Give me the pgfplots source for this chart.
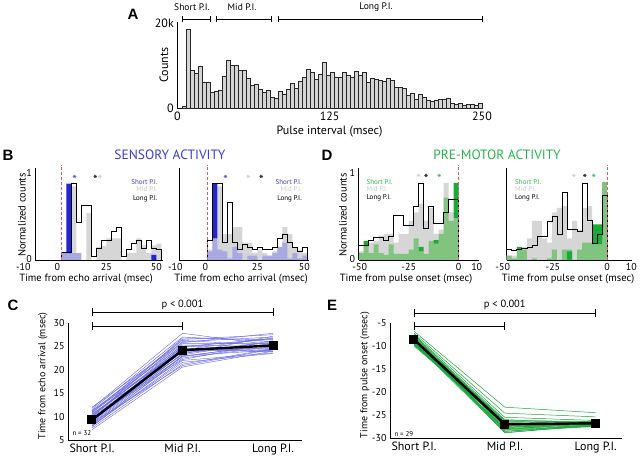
\documentclass[border=0pt]{standalone}
\usepackage{fontspec}
\setmainfont{PT Sans}
\newfontfamily\lett{Liberation Sans}
\usepackage{pgfplots}
\pgfplotsset{compat=1.18}
\definecolor{mgray}{RGB}{214,214,214}
\definecolor{lblue}{RGB}{168,168,226}
\definecolor{dblue}{RGB}{35,35,215}
\definecolor{lgreen}{RGB}{128,196,128}
\definecolor{dgreen}{RGB}{25,170,55}
\definecolor{tblue}{RGB}{60,60,205}
\definecolor{tgreen}{RGB}{40,182,75}
\definecolor{cline}{RGB}{110,110,230}
\definecolor{eline}{RGB}{30,165,60}
\definecolor{rdash}{RGB}{228,88,98}
\definecolor{legmid}{RGB}{200,200,200}
\definecolor{histA}{RGB}{212,212,212}
\newcommand\sh[2]{\makebox[0pt]{\hspace*{#1}\hspace*{#1}\makebox[0pt]{#2}}}
\newcommand\fs[1]{\fontsize{#1}{#1}\selectfont}
\newcommand\lC[3]{\addplot[cline, line width=0.45pt] coordinates {(0,#1)(1,#2)(2,#3)};}
\newcommand\lE[3]{\addplot[eline, line width=0.5pt] coordinates {(0,#1)(1,#2)(2,#3)};}
\tikzset{star/.style={font=\fs{13}, inner sep=0pt}}
\pgfplotsset{base/.style={scale only axis, anchor=south west, clip=false,
  axis x line*=bottom, axis y line*=left, axis line style={line width=0.7pt},
  major tick length=0pt, tick style={draw=none},
  /pgf/number format/assume math mode=true, ticklabel style={font=\fs{10}}},
  hb/.style={base, ymin=0, ymax=1.06, height=91.9pt},
  rline/.style={rdash, line width=1.2pt, dash pattern=on 3pt off 2pt}}
\begin{document}
\begin{tikzpicture}
\useasboundingbox (0,0) rectangle (640pt,458pt);
% ---------------- Panel A
\begin{axis}[base, at={(177.3pt,349.7pt)}, width=304.7pt, height=86.6pt,
  xmin=0, xmax=250, ymin=0, ymax=20.3, xtick={0,125,250}, ytick={0,20}, yticklabels={0,20k},
  ticklabel style={font=\fs{12}}]
\addplot[ybar interval, fill=histA, draw=black!85, line width=0.45pt] coordinates {
(4.00,0.5)(7.28,18.6)(10.56,9.0)(13.84,8.2)(17.12,9.8)(20.40,6.2)(23.68,6.0)(26.96,3.7)(30.24,4.1)(33.52,4.3)(36.80,7.6)(40.08,11.2)(43.36,10.0)(46.64,10.2)(49.92,9.0)(53.20,9.0)(56.48,7.0)(59.76,5.4)(63.04,5.7)(66.32,4.5)(69.60,3.7)(72.88,4.2)(76.16,2.7)(79.44,2.4)(82.72,4.1)(86.00,3.4)(89.28,4.4)(92.56,5.9)(95.84,4.6)(99.12,6.3)(102.40,7.2)(105.68,9.1)(108.96,8.5)(112.24,6.9)(115.52,8.1)(118.80,10.8)(122.08,7.7)(125.36,8.5)(128.64,7.4)(131.92,7.2)(135.20,8.4)(138.48,7.8)(141.76,7.4)(145.04,8.8)(148.32,7.8)(151.60,8.4)(154.88,6.1)(158.16,7.1)(161.44,6.7)(164.72,6.6)(168.00,6.3)(171.28,7.1)(174.56,6.5)(177.84,4.9)(181.12,4.9)(184.40,4.7)(187.68,3.0)(190.96,3.5)(194.24,2.1)(197.52,3.2)(200.80,2.6)(204.08,1.8)(207.36,1.6)(210.64,2.0)(213.92,2.1)(217.20,2.1)(220.48,2.35)(223.76,1.2)(227.04,1.05)(230.32,1.2)(233.60,0.8)(236.88,0.9)(240.16,0.9)(243.44,0.75)(246.72,1.2)(250,1.2)};
\draw[line width=0.7pt] (3.9,20.17)--(3.9,21.57) (3.9,20.87)--(26.8,20.87) (26.8,20.17)--(26.8,21.57);
\draw[line width=0.7pt] (31.7,20.17)--(31.7,21.57) (31.7,20.87)--(76.9,20.87) (76.9,20.17)--(76.9,21.57);
\draw[line width=0.7pt] (82.6,20.17)--(82.6,21.57) (82.6,20.87)--(250,20.87) (250,20.17)--(250,21.57);
\end{axis}
% ---------------- Panel B left
\begin{axis}[hb, at={(35.3pt,198pt)}, width=128pt, xmin=-13, xmax=51,
  xtick={-10,0,25,50}, xticklabels={{\sh{-18pt}{-10}},{\sh{-4pt}{0}},{\sh{-5pt}{25}},{\sh{-5pt}{50}}},
  ytick={0,1}, yticklabels={{\raisebox{3pt}{0}},1}]
\addplot[ybar interval, fill=mgray, draw=none] coordinates {(0,0)(2.5,0)(5,0.85)(7.5,0)(10,0)(12.5,0.54)(15,0)(17.5,0.15)(20,0.16)(22.5,0.25)(25,0.25)(27.5,0.25)(30,0)(32.5,0.08)(35,0.08)(37.5,0.25)(40,0.17)(42.5,0.08)(45,0.17)(47.5,0.19)(50,0.19)};
\addplot[ybar interval, fill=lblue, draw=none] coordinates {(0,0.08)(2.5,0.08)(5,0.08)(7.5,0.08)(10,0.08)};
\addplot[fill=dblue, draw=none] coordinates {(2.5,0.08)(5,0.08)(5,0.88)(2.5,0.88)(2.5,0.08)};
\addplot[fill=dblue, draw=none] coordinates {(45,0)(47.5,0)(47.5,0.06)(45,0.06)(45,0)};
\addplot[const plot, black, line width=0.6pt] coordinates {(0,0)(0,0.09)(2.5,0.09)(5,0.88)(7.5,0.44)(10,0.63)(12.5,0.63)(15,0.04)(17.5,0.13)(20,0.23)(22.5,0.23)(25,0.33)(27.5,0.38)(30,0.04)(32.5,0.12)(35,0.19)(37.5,0.23)(40,0.13)(42.5,0.23)(45,0.13)(47.5,0.12)(50,0.12)(50,0)};
\addplot[rline] coordinates {(0,0)(0,1.1)};
\node[star, tblue] at (6.7,0.93) {*};
\node[star, black] at (17.0,0.93) {*};
\node[star, legmid] at (19.3,0.93) {*};
\end{axis}
% ---------------- Panel B right
\begin{axis}[hb, at={(179.3pt,198pt)}, width=130pt, xmin=-14, xmax=51,
  xtick={-10,0,25,50}, xticklabels={{\sh{-12pt}{-10}},{\sh{-2pt}{0}},{25},{\sh{-3pt}{50}}},
  ytick=\empty]
\addplot[ybar interval, fill=mgray, draw=none] coordinates {(0,0.12)(2.5,0.3)(5,0.85)(7.5,0.3)(10,0.3)(12.5,0.38)(15,0.38)(17.5,0.2)(20,0.2)(22.5,0.08)(25,0.12)(27.5,0.08)(30,0.05)(32.5,0.1)(35,0.12)(37.5,0.38)(40,0.3)(42.5,0.15)(45,0.12)(47.5,0.08)(50,0.08)};
\addplot[ybar interval, fill=lblue, draw=none] coordinates {(0,0.1)(2.5,0.25)(5,0.12)(7.5,0.1)(10,0.02)(12.5,0.15)(15,0.08)(17.5,0)(20,0.05)(22.5,0.05)(25,0)(27.5,0.05)(30,0.05)(32.5,0.08)(35,0.15)(37.5,0.2)(40,0.02)(42.5,0.08)(45,0.02)(47.5,0.05)(50,0.05)};
\addplot[fill=dblue, draw=none] coordinates {(2.5,0.25)(5,0.25)(5,0.88)(2.5,0.88)(2.5,0.25)};
\addplot[const plot, black, line width=0.6pt] coordinates {(0,0)(0,0.23)(2.5,0.88)(5,0.88)(7.5,0.2)(10,0.67)(12.5,0.2)(15,0.12)(17.5,0.18)(20,0.15)(22.5,0.12)(25,0.15)(27.5,0.12)(30,0.12)(32.5,0.15)(35,0.25)(37.5,0.30)(40,0.20)(42.5,0.15)(45,0.1)(47.5,0.15)(50,0.15)(50,0)};
\addplot[rline] coordinates {(0,0)(0,1.1)};
\node[star, tblue] at (9.2,0.93) {*};
\node[star, legmid] at (20.5,0.93) {*};
\node[star, black] at (27,0.93) {*};
\end{axis}
% ---------------- Panel D left
\begin{axis}[hb, at={(358.7pt,198pt)}, width=120pt, xmin=-50, xmax=10,
  xtick={-50,-25,0,10}, xticklabels={{\sh{1pt}{-50}},{-25},{0},{\sh{-2pt}{10}}},
  ytick={0,1}, yticklabels={{\raisebox{3pt}{0}},1}]
\addplot[ybar interval, fill=mgray, draw=none] coordinates {(-50,0.1)(-47.5,0.15)(-45,0.2)(-42.5,0.22)(-40,0.28)(-37.5,0.3)(-35,0.3)(-32.5,0.2)(-30,0.3)(-27.5,0.3)(-25,0.45)(-22.5,0.55)(-20,0.65)(-17.5,0.45)(-15,0.6)(-12.5,0.3)(-10,0.35)(-7.5,0.89)(-5,0.55)(-2.5,0.3)(0,0.3)};
\addplot[ybar interval, fill=lgreen, draw=none] coordinates {(-50,0.08)(-47.5,0.16)(-45,0.08)(-42.5,0.18)(-40,0.08)(-37.5,0.06)(-35,0.18)(-32.5,0.07)(-30,0.07)(-27.5,0.07)(-25,0.12)(-22.5,0.25)(-20,0.10)(-17.5,0.07)(-15,0.22)(-12.5,0.19)(-10,0.30)(-7.5,0.72)(-5,0.45)(-2.5,0.48)(0,0.48)};
\addplot[fill=dgreen, draw=none] coordinates {(-47.5,0.16)(-45,0.16)(-45,0.22)(-47.5,0.22)(-47.5,0.16)};
\addplot[fill=dgreen, draw=none] coordinates {(-20,0.10)(-17.5,0.10)(-17.5,0.15)(-20,0.15)(-20,0.10)};
\addplot[fill=dgreen, draw=none] coordinates {(-12.5,0.19)(-10,0.19)(-10,0.23)(-12.5,0.23)(-12.5,0.19)};
\addplot[fill=dgreen, draw=none] coordinates {(-2.5,0.48)(0,0.48)(0,0.89)(-2.5,0.89)(-2.5,0.48)};
\addplot[const plot, black, line width=0.6pt] coordinates {(-50,0)(-50,0.17)(-47.5,0.17)(-45,0.23)(-42.5,0.26)(-40,0.26)(-37.5,0.23)(-35,0.27)(-32.5,0.52)(-30,0.52)(-27.5,0.40)(-25,0.40)(-22.5,0.62)(-20,0.89)(-17.5,0.37)(-15,0.62)(-12.5,0.42)(-10,0.42)(-7.5,0.55)(-5,0.70)(-2.5,0.70)(0,0.70)(0,0)};
\addplot[rline] coordinates {(0,0)(0,1.1)};
\node[star, legmid] at (-20,0.94) {*};
\node[star, black] at (-16.3,0.94) {*};
\node[star, tgreen] at (-9.7,0.94) {*};
\end{axis}
% ---------------- Panel D right
\begin{axis}[hb, at={(506.7pt,198pt)}, width=125.6pt, xmin=-50, xmax=12.5,
  xtick={-50,-25,0,10}, xticklabels={{\sh{-4pt}{-50}},{\sh{-4pt}{-25}},{0},{\sh{4pt}{10}}},
  ytick=\empty]
\addplot[ybar interval, fill=mgray, draw=none] coordinates {(-50,0.05)(-47.5,0.05)(-45,0.15)(-42.5,0.15)(-40,0.25)(-37.5,0.45)(-35,0.45)(-32.5,0.25)(-30,0.2)(-27.5,0.55)(-25,0.6)(-22.5,0.62)(-20,0.25)(-17.5,0.45)(-15,0.35)(-12.5,0.6)(-10,0.62)(-7.5,0.35)(-5,0.35)(-2.5,0.15)(0,0.15)};
\addplot[ybar interval, fill=lgreen, draw=none] coordinates {(-50,0.05)(-47.5,0.02)(-45,0.12)(-42.5,0.12)(-40,0)(-37.5,0.02)(-35,0)(-32.5,0)(-30,0.02)(-27.5,0.12)(-25,0)(-22.5,0.12)(-20,0.12)(-17.5,0)(-15,0.12)(-12.5,0.2)(-10,0.2)(-7.5,0.18)(-5,0.18)(-2.5,0.9)(0,0.9)};
\addplot[fill=dgreen, draw=none] coordinates {(-45,0.12)(-42.5,0.12)(-42.5,0.15)(-45,0.15)(-45,0.12)};
\addplot[fill=dgreen, draw=none] coordinates {(-20,0)(-17.5,0)(-17.5,0.1)(-20,0.1)(-20,0)};
\addplot[fill=dgreen, draw=none] coordinates {(-7.5,0.18)(-2.5,0.18)(-2.5,0.41)(-7.5,0.41)(-7.5,0.18)};
\addplot[const plot, black, line width=0.6pt] coordinates {(-50,0.12)(-47.5,0.11)(-45,0.12)(-42.5,0.13)(-40,0.15)(-37.5,0.17)(-35,0.27)(-32.5,0.27)(-30,0.45)(-27.5,0.50)(-25,0.30)(-22.5,0.78)(-20,0.35)(-17.5,0.35)(-15,0.33)(-12.5,0.89)(-10,0.46)(-7.5,0.19)(-5,0.30)(-2.5,0.75)(0,0.75)(0,0)};
\addplot[rline] coordinates {(0,0)(0,1.1)};
\node[star, legmid] at (-16.6,0.94) {*};
\node[star, black] at (-11.1,0.94) {*};
\node[star, tgreen] at (-6.6,0.94) {*};
\end{axis}
% ---------------- Panel C
\begin{axis}[base, at={(68pt,18pt)}, width=234pt, height=117pt,
  xmin=-0.265, xmax=2.32, ymin=5, ymax=30, xtick={0,1,2},
  xticklabels={Short P.I.,Mid P.I.,Long P.I.}, x tick label style={font=\fs{12}},
  ytick={5,10,15,20,25,30}]
\lC{7.2}{20.6}{24.0}\lC{7.6}{21.2}{24.5}\lC{8.0}{22.0}{23.6}\lC{8.3}{22.5}{25.0}
\lC{8.5}{23.0}{24.2}\lC{8.7}{23.5}{26.0}\lC{8.9}{24.0}{25.2}\lC{9.0}{24.5}{23.9}
\lC{9.2}{25.0}{26.5}\lC{9.4}{22.8}{25.5}\lC{9.6}{23.8}{24.8}\lC{9.8}{24.3}{26.8}
\lC{10.0}{25.3}{25.0}\lC{10.2}{26.0}{27.0}\lC{10.4}{24.7}{24.0}\lC{10.6}{23.2}{26.2}
\lC{10.8}{25.6}{25.6}\lC{11.0}{26.5}{27.5}\lC{11.2}{24.1}{24.6}\lC{11.5}{27.0}{26.0}
\lC{11.8}{27.8}{25.3}\lC{12.0}{25.8}{27.8}\lC{8.1}{21.6}{23.5}\lC{9.5}{22.2}{25.8}
\lC{10.1}{24.9}{26.7}\lC{8.6}{20.9}{24.4}\lC{10.9}{26.3}{25.1}\lC{9.1}{23.4}{27.2}
\lC{11.3}{25.1}{24.3}\lC{9.9}{26.8}{26.4}\lC{7.9}{22.9}{25.4}\lC{10.5}{24.4}{23.8}
\addplot[black, line width=2.4pt, mark=square*, mark size=3.3pt] coordinates {(0,9.3)(1,24.2)(2,25.2)};
\draw[line width=0.8pt] (0,31.5)--(0,33.2) (0,32.35)--(2,32.35) (2,31.5)--(2,33.2);
\draw[line width=0.8pt] (0,28.5)--(0,30.2) (0,29.36)--(1,29.36) (1,28.5)--(1,30.2);
\node[font=\fs{10.5}] at (1,33.9) {p < 0.001};
\end{axis}
% ---------------- Panel E
\begin{axis}[base, at={(390pt,20pt)}, width=232pt, height=115pt,
  xmin=-0.264, xmax=2.29, ymin=-30, ymax=-5, xtick={0,1,2},
  xticklabels={Short P.I.,Mid P.I.,Long P.I.}, x tick label style={font=\fs{12}},
  ytick={-30,-25,-20,-15,-10,-5}, yticklabels={-30,-25,-20,-15,-10,-5}]
\lE{-6.8}{-23.3}{-24.5}\lE{-7.2}{-24.6}{-25.4}\lE{-7.5}{-25.5}{-26.2}\lE{-7.8}{-26.0}{-26.8}
\lE{-8.0}{-26.5}{-26.4}\lE{-8.2}{-27.0}{-27.0}\lE{-8.4}{-27.3}{-26.6}\lE{-8.6}{-27.6}{-27.2}
\lE{-8.8}{-28.0}{-26.9}\lE{-9.0}{-28.3}{-27.4}\lE{-9.2}{-28.6}{-27.0}\lE{-9.4}{-28.8}{-27.3}
\lE{-9.6}{-27.8}{-26.5}\lE{-9.8}{-27.1}{-27.6}\lE{-10.0}{-26.8}{-26.7}\lE{-8.1}{-27.5}{-26.8}
\lE{-8.5}{-26.3}{-27.1}\lE{-8.9}{-28.2}{-26.6}\lE{-9.3}{-27.9}{-27.3}\lE{-7.6}{-26.7}{-26.9}
\lE{-9.1}{-27.4}{-27.0}\lE{-8.7}{-28.5}{-27.5}\lE{-8.3}{-27.2}{-26.5}\lE{-9.5}{-26.9}{-27.2}
\lE{-7.9}{-27.7}{-26.8}\lE{-8.6}{-28.9}{-27.1}\lE{-9.7}{-27.0}{-26.7}\lE{-8.2}{-26.2}{-26.4}
\lE{-9.0}{-28.1}{-27.4}
\addplot[black, line width=2.4pt, mark=square*, mark size=3.3pt] coordinates {(0,-8.6)(1,-27.0)(2,-26.8)};
\draw[line width=0.8pt] (0,-3.77)--(0,-2.03) (0,-2.9)--(2,-2.9) (2,-3.77)--(2,-2.03);
\draw[line width=0.8pt] (0,-6.52)--(0,-4.78) (0,-5.65)--(1,-5.65) (1,-6.52)--(1,-4.78);
\node[font=\fs{10.5}] at (1,-1.1) {p < 0.001};
\end{axis}
% ---------------- texts
\node[font=\lett\bfseries\fs{15}] at (133pt,444pt) {A};
\node[font=\lett\bfseries\fs{15}] at (8pt,303pt) {B};
\node[font=\lett\bfseries\fs{15}] at (13pt,153pt) {C};
\node[font=\lett\bfseries\fs{15}] at (327pt,303pt) {D};
\node[font=\lett\bfseries\fs{15}] at (332pt,153pt) {E};
\node[font=\fs{9.5}] at (192pt,451pt) {Short P.I.};
\node[font=\fs{9.5}] at (242pt,451pt) {Mid P.I.};
\node[font=\fs{9.5}] at (376pt,451pt) {Long P.I.};
\node[font=\fs{12}, rotate=90] at (164pt,393pt) {Counts};
\node[font=\fs{12}] at (329.5pt,326pt) {Pulse interval (msec)};
\node[font=\fs{13.5}, text=tblue] at (170pt,303pt) {SENSORY ACTIVITY};
\node[font=\fs{13.5}, text=tgreen] at (497pt,303pt) {PRE-MOTOR ACTIVITY};
\node[font=\fs{10.5}, rotate=90] at (22pt,243pt) {Normalized counts};
\node[font=\fs{10.5}, rotate=90] at (343pt,243pt) {Normalized counts};
\node[font=\fs{10.5}] at (86pt,179pt) {Time from echo arrival (msec)};
\node[font=\fs{10.5}] at (241pt,179pt) {Time from echo arrival (msec)};
\node[font=\fs{10.5}] at (406pt,179pt) {Time from pulse onset (msec)};
\node[font=\fs{10.5}] at (568pt,179pt) {Time from pulse onset (msec)};
\node[font=\fs{10}, rotate=90] at (43pt,82pt) {Time from echo arrival (msec)};
\node[font=\fs{10}, rotate=90] at (365pt,83pt) {Time from pulse onset (msec)};
\node[font=\fs{7}, anchor=west] at (69pt,25pt) {n = 32};
\node[font=\fs{7}, anchor=west] at (391pt,24pt) {n = 29};
% legends
\node[font=\fs{7}, anchor=east, text=tblue] at (161pt,276.3pt) {Short P.I.};
\node[font=\fs{7}, anchor=east, text=legmid] at (161pt,268.7pt) {Mid P.I.};
\node[font=\fs{7}, anchor=east] at (161pt,259.7pt) {Long P.I.};
\node[font=\fs{7}, anchor=east, text=tblue] at (305.3pt,276.3pt) {Short P.I.};
\node[font=\fs{7}, anchor=east, text=legmid] at (305.3pt,268.7pt) {Mid P.I.};
\node[font=\fs{7}, anchor=east] at (305.3pt,259.7pt) {Long P.I.};
\node[font=\fs{7}, anchor=west, text=tgreen] at (363pt,276.3pt) {Short P.I.};
\node[font=\fs{7}, anchor=west, text=legmid] at (363pt,268.7pt) {Mid P.I.};
\node[font=\fs{7}, anchor=west] at (363pt,260.7pt) {Long P.I.};
\node[font=\fs{7}, anchor=west, text=tgreen] at (511.7pt,276.3pt) {Short P.I.};
\node[font=\fs{7}, anchor=west, text=legmid] at (511.7pt,268.7pt) {Mid P.I.};
\node[font=\fs{7}, anchor=west] at (511.7pt,260.7pt) {Long P.I.};
\end{tikzpicture}
\end{document}
